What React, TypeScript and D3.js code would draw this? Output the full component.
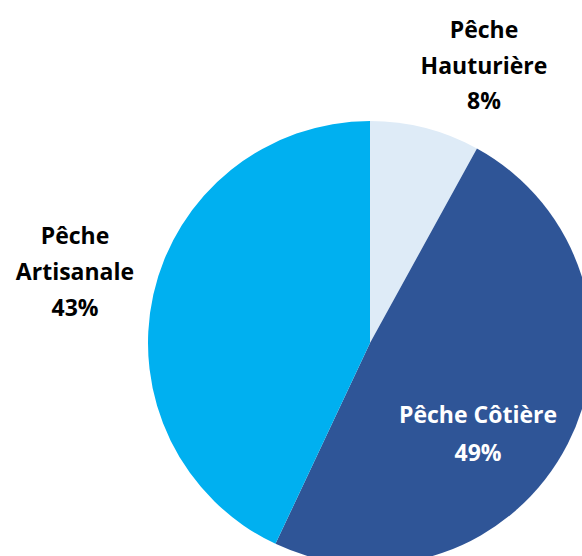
import * as d3 from "d3";
import { useEffect, useRef } from "react";

const categories = ["Pêche Hauturière", "Pêche Côtière", "Pêche Artisanale"];
const values = [8, 49, 43];
const colors = ["#DEEBF7", "#2F5597", "#00B0F0"];
// label lines and placement, each label is a block of lines
const labelLines = [
  ["Pêche", "Hauturière", "8%"],
  ["Pêche Côtière", "49%"],
  ["Pêche", "Artisanale", "43%"]
];
const labelColors = ["#000000", "#FFFFFF", "#000000"];

export default function App() {
  const svgRef = useRef<SVGSVGElement>(null);
  const width = 582;
  const height = 556;

  useEffect(() => {
    const svg = d3.select(svgRef.current);
    svg.selectAll("*").remove();

    const cx = 370;
    const cy = 343;
    const radius = 222;

    const data = categories.map((c, i) => ({ name: c, value: values[i], i }));

    const pie = d3.pie<any>().sort(null).value((d) => d.value);
    const arc = d3.arc<any>().innerRadius(0).outerRadius(radius);

    const g = svg.append("g").attr("transform", `translate(${cx},${cy})`);

    g.selectAll("path")
      .data(pie(data))
      .join("path")
      .attr("d", arc)
      .attr("fill", (d) => colors[d.data.i]);

    // label centers (relative to pie center)
    const labelPos = [
      [114, -313],
      [108, 72],
      [-295, -107]
    ];
    const lineH = [35.5, 38, 36];

    const labels = svg.append("g")
      .attr("font-family", "'Open Sans', sans-serif")
      .attr("font-weight", "bold")
      .attr("font-size", 23)
      .attr("text-anchor", "middle");

    labelLines.forEach((lines, i) => {
      const [lx, ly] = labelPos[i];
      const t = labels.append("text")
        .attr("fill", labelColors[i])
        .attr("x", cx + lx)
        .attr("y", cy + ly);
      lines.forEach((line, j) => {
        t.append("tspan")
          .attr("x", cx + lx)
          .attr("y", cy + ly + j * lineH[i])
          .attr("dy", "0.35em")
          .text(line);
      });
    });
  }, []);

  return (
    <svg
      ref={svgRef}
      width={width}
      height={height}
      style={{ position: "absolute", left: 0, top: 0, background: "#fff" }}
    />
  );
}
